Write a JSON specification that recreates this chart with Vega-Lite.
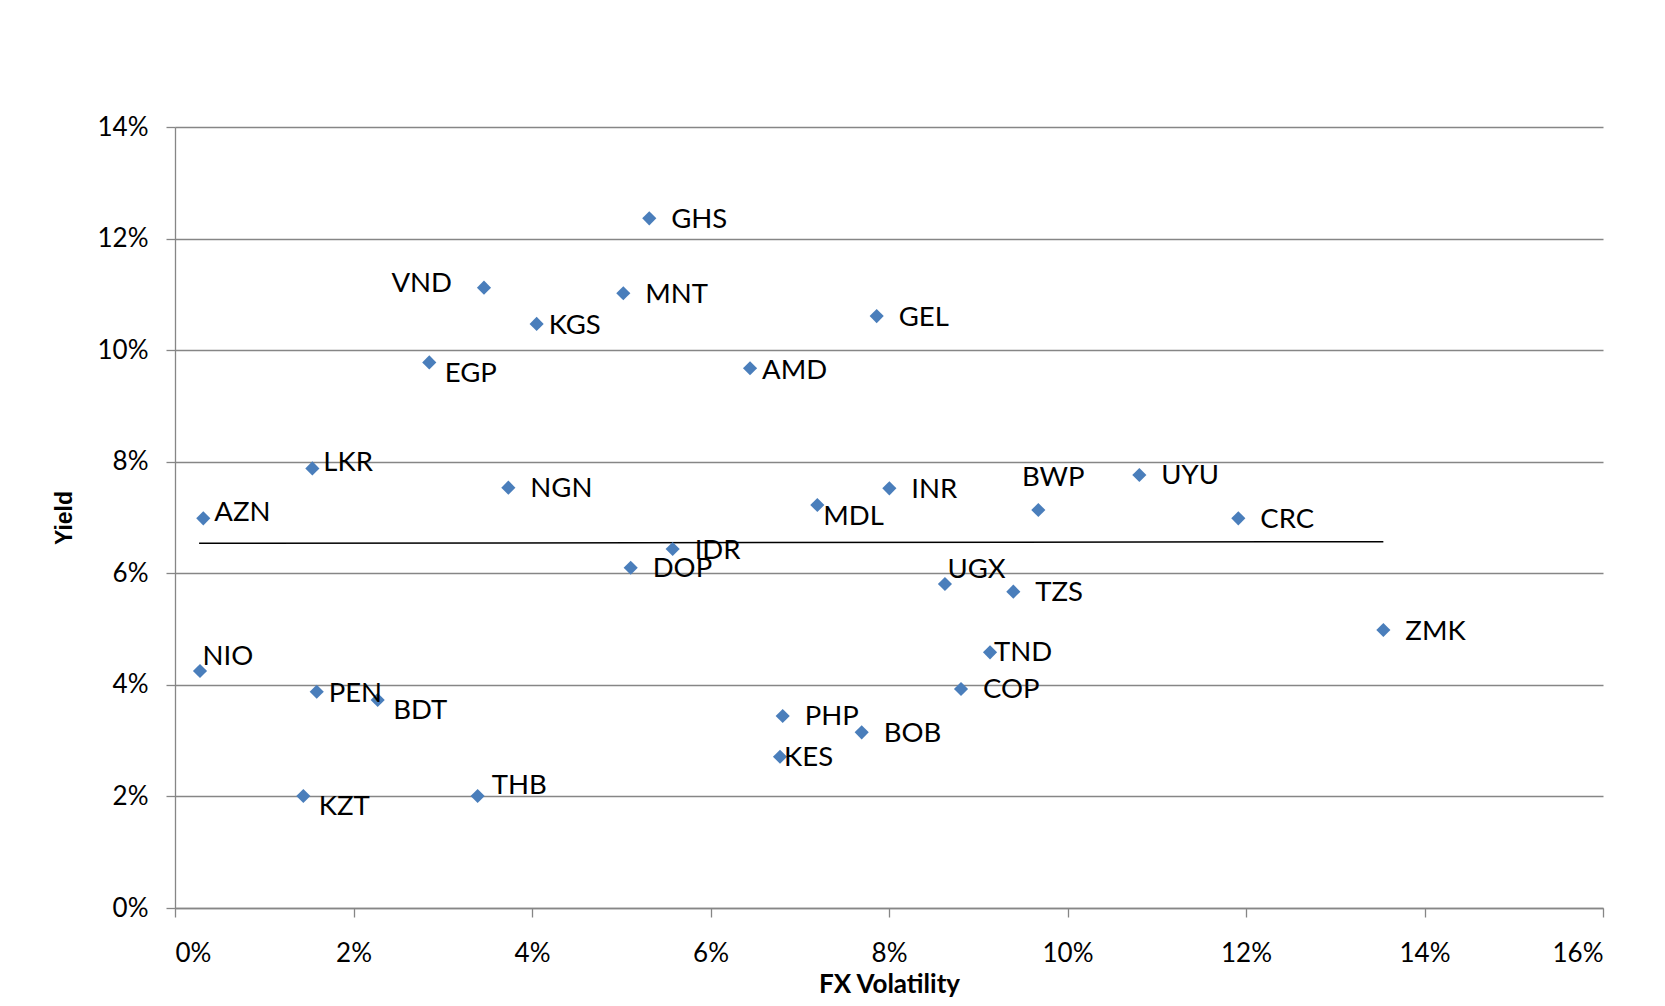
{
  "$schema": "https://vega.github.io/schema/vega-lite/v6.json",
  "width": 1428,
  "height": 781,
  "autosize": {"type": "none"},
  "padding": {"left": 175, "top": 127, "right": 62, "bottom": 98},
  "background": "white",
  "datasets": {
    "points": [
      {"ccy": "GHS", "vol": 0.05314, "yield": 0.12363},
      {"ccy": "VND", "vol": 0.03462, "yield": 0.1112},
      {"ccy": "MNT", "vol": 0.05023, "yield": 0.1102},
      {"ccy": "KGS", "vol": 0.04052, "yield": 0.1047},
      {"ccy": "GEL", "vol": 0.07862, "yield": 0.1061},
      {"ccy": "EGP", "vol": 0.02849, "yield": 0.0978},
      {"ccy": "AMD", "vol": 0.06443, "yield": 0.09675},
      {"ccy": "LKR", "vol": 0.01539, "yield": 0.0788},
      {"ccy": "NGN", "vol": 0.03735, "yield": 0.07535},
      {"ccy": "AZN", "vol": 0.00317, "yield": 0.06985},
      {"ccy": "MDL", "vol": 0.07197, "yield": 0.07224},
      {"ccy": "INR", "vol": 0.08004, "yield": 0.07523},
      {"ccy": "BWP", "vol": 0.09673, "yield": 0.07134},
      {"ccy": "UYU", "vol": 0.10805, "yield": 0.07762},
      {"ccy": "CRC", "vol": 0.11914, "yield": 0.06985},
      {"ccy": "IDR", "vol": 0.05576, "yield": 0.06435},
      {"ccy": "DOP", "vol": 0.05106, "yield": 0.061},
      {"ccy": "UGX", "vol": 0.08627, "yield": 0.05808},
      {"ccy": "TZS", "vol": 0.09393, "yield": 0.0567},
      {"ccy": "ZMK", "vol": 0.13539, "yield": 0.04983},
      {"ccy": "TND", "vol": 0.09132, "yield": 0.04583},
      {"ccy": "NIO", "vol": 0.0028, "yield": 0.04248},
      {"ccy": "PEN", "vol": 0.01588, "yield": 0.03877},
      {"ccy": "BDT", "vol": 0.02271, "yield": 0.03729},
      {"ccy": "COP", "vol": 0.08807, "yield": 0.03926},
      {"ccy": "PHP", "vol": 0.06809, "yield": 0.03442},
      {"ccy": "BOB", "vol": 0.07694, "yield": 0.03149},
      {"ccy": "KES", "vol": 0.06779, "yield": 0.02712},
      {"ccy": "KZT", "vol": 0.01438, "yield": 0.02008},
      {"ccy": "THB", "vol": 0.03391, "yield": 0.02008}
    ],
    "trend": [
      {"vol": 0.0027, "yield": 0.06537},
      {"vol": 0.13539, "yield": 0.06567}
    ]
  },
  "data": {"name": "points"},
  "encoding": {
    "x": {
      "field": "vol", "type": "quantitative",
      "scale": {"domain": [0, 0.16], "nice": false, "zero": false},
      "axis": {
        "values": [0, 0.02, 0.04, 0.06, 0.08, 0.1, 0.12, 0.14, 0.16],
        "format": ".0%", "grid": false, "title": "FX Volatility",
        "labelPadding": 23, "titlePadding": 5,
        "titleFont": "Lato", "titleFontSize": 26, "titleFontWeight": "bold"
      }
    },
    "y": {
      "field": "yield", "type": "quantitative",
      "scale": {"domain": [0, 0.14], "nice": false, "zero": false},
      "axis": {
        "values": [0, 0.02, 0.04, 0.06, 0.08, 0.1, 0.12, 0.14],
        "format": ".0%", "grid": true, "title": "Yield",
        "labelPadding": 18, "titlePadding": 21,
        "titleFont": "Liberation Sans", "titleFontSize": 23, "titleFontWeight": "bold"
      }
    }
  },
  "layer": [
    {
      "data": {"name": "trend"},
      "mark": {"type": "line", "color": "#000000", "strokeWidth": 1.5}
    },
    {
      "mark": {"type": "point", "shape": "diamond", "filled": true, "size": 200, "color": "#4a7ebb", "opacity": 1}
    },
    {
      "transform": [{"filter": {"field": "ccy", "oneOf": ["GHS", "MNT", "GEL", "NGN", "INR", "UYU", "CRC", "IDR", "DOP", "TZS", "ZMK", "COP", "PHP", "BOB"]}}],
      "mark": {"type": "text", "align": "left", "baseline": "middle", "dx": 22, "dy": 1.5},
      "encoding": {"text": {"field": "ccy"}}
    },
    {
      "transform": [{"filter": {"field": "ccy", "oneOf": ["AMD", "PEN", "KGS"]}}],
      "mark": {"type": "text", "align": "left", "baseline": "middle", "dx": 12, "dy": 2.5},
      "encoding": {"text": {"field": "ccy"}}
    },
    {
      "transform": [{"filter": {"field": "ccy", "oneOf": ["LKR", "AZN"]}}],
      "mark": {"type": "text", "align": "left", "baseline": "middle", "dx": 11, "dy": -5},
      "encoding": {"text": {"field": "ccy"}}
    },
    {
      "transform": [{"filter": {"field": "ccy", "oneOf": ["TND", "KES"]}}],
      "mark": {"type": "text", "align": "left", "baseline": "middle", "dx": 4, "dy": 1},
      "encoding": {"text": {"field": "ccy"}}
    },
    {
      "transform": [{"filter": {"field": "ccy", "oneOf": ["EGP", "BDT", "KZT"]}}],
      "mark": {"type": "text", "align": "left", "baseline": "middle", "dx": 15.5, "dy": 11.5},
      "encoding": {"text": {"field": "ccy"}}
    },
    {
      "transform": [{"filter": {"field": "ccy", "equal": "MDL"}}],
      "mark": {"type": "text", "align": "left", "baseline": "middle", "dx": 6, "dy": 12},
      "encoding": {"text": {"field": "ccy"}}
    },
    {
      "transform": [{"filter": {"field": "ccy", "oneOf": ["NIO", "UGX"]}}],
      "mark": {"type": "text", "align": "left", "baseline": "middle", "dx": 2.5, "dy": -14},
      "encoding": {"text": {"field": "ccy"}}
    },
    {
      "transform": [{"filter": {"field": "ccy", "equal": "THB"}}],
      "mark": {"type": "text", "align": "left", "baseline": "middle", "dx": 14, "dy": -10},
      "encoding": {"text": {"field": "ccy"}}
    },
    {
      "transform": [{"filter": {"field": "ccy", "equal": "VND"}}],
      "mark": {"type": "text", "align": "right", "baseline": "middle", "dx": -32, "dy": -4},
      "encoding": {"text": {"field": "ccy"}}
    },
    {
      "transform": [{"filter": {"field": "ccy", "equal": "BWP"}}],
      "mark": {"type": "text", "align": "center", "baseline": "middle", "dx": 15, "dy": -32},
      "encoding": {"text": {"field": "ccy"}}
    }
  ],
  "config": {
    "font": "Lato",
    "view": {"stroke": null},
    "text": {"font": "Lato", "fontSize": 27.5, "color": "#000000"},
    "axis": {
      "labelFont": "Lato", "labelFontSize": 26, "labelColor": "#000000",
      "titleColor": "#000000",
      "domainColor": "#868686", "domainWidth": 1.3,
      "tickColor": "#868686", "tickWidth": 1.3, "tickSize": 9,
      "gridColor": "#868686", "gridWidth": 1.3, "gridOpacity": 1
    }
  }
}
